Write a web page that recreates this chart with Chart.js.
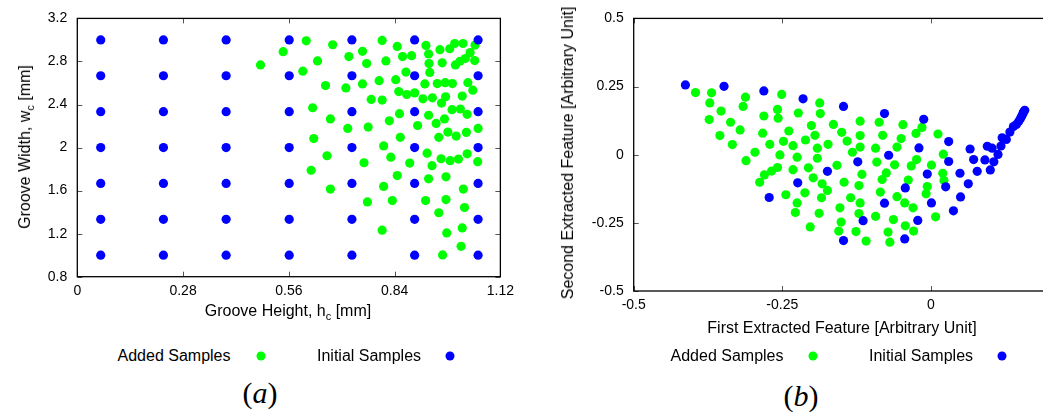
<!DOCTYPE html>
<html lang="en">
  <head>
    <meta charset="UTF-8" />
    <title>Added and Initial Samples</title>
    <script src="https://cdn.jsdelivr.net/npm/chart.js"></script>
    <style>
      body {
        margin: 0;
        width: 1043px;
        height: 414px;
        overflow: hidden;
        position: relative;
        background: #fff;
        font-family: "Liberation Sans", Arial, sans-serif;
        color: #000;
      }
      .abs {
        position: absolute;
        white-space: nowrap;
        line-height: 1;
        transform: translate(-50%, -50%);
      }
      .title {
        font-size: 16px;
      }
      .rot {
        transform: translate(-50%, -50%) rotate(-90deg);
      }
      sub {
        font-size: 11px;
        line-height: 0;
        vertical-align: -4px;
      }
      .dot {
        position: absolute;
        width: 9px;
        height: 9px;
        border-radius: 50%;
        transform: translate(-50%, -50%);
      }
      .panel {
        font-family: "Liberation Serif", "DejaVu Serif", serif;
        font-size: 30px;
      }
    </style>
  </head>
  <body>
    <canvas id="chartA" width="520" height="320" style="position:absolute;left:0;top:0"></canvas>
    <canvas id="chartB" width="730" height="330" style="position:absolute;left:520px;top:0"></canvas>

    <!-- axis titles -->
    <div class="abs title" style="left:288px;top:311px">Groove Height, h<sub>c</sub> [mm]</div>
    <div class="abs title rot" style="left:25px;top:147px">Groove Width, w<sub>c</sub> [mm]</div>
    <div class="abs title" style="left:842px;top:328px">First Extracted Feature [Arbitrary Unit]</div>
    <div class="abs title rot" style="left:568px;top:153px">Second Extracted Feature [Arbitrary Unit]</div>

    <!-- legends -->
    <div class="abs title" style="left:174px;top:356px">Added Samples</div>
    <div class="dot" style="left:261px;top:356px;background:#00ff00"></div>
    <div class="abs title" style="left:369px;top:356px">Initial Samples</div>
    <div class="dot" style="left:450px;top:356px;background:#0000ff"></div>

    <div class="abs title" style="left:727px;top:356px">Added Samples</div>
    <div class="dot" style="left:813px;top:356px;background:#00ff00"></div>
    <div class="abs title" style="left:921px;top:356px">Initial Samples</div>
    <div class="dot" style="left:1002px;top:356px;background:#0000ff"></div>

    <div class="abs panel" style="left:260px;top:393px">(<i>a</i>)</div>
    <div class="abs panel" style="left:801px;top:396px">(<i>b</i>)</div>

    <script>
      // ---- panel (a): design space ----
      const hcLevels = [0.062, 0.228, 0.394, 0.561, 0.727, 0.893, 1.061];
      const wcLevels = [1.0, 1.333, 1.667, 2.0, 2.333, 2.667, 3.0];

      const addedHc = [0.485,0.545,0.606,0.597,0.636,0.676,0.657,0.623,0.670,0.626,0.661,0.619,0.670,
        0.719,0.755,0.766,0.711,0.755,0.716,0.770,0.759,0.768,0.778,0.807,0.817,0.799,0.807,0.826,
        0.811,0.830,0.811,0.834,0.807,0.847,0.861,0.885,0.870,0.843,0.851,0.872,0.893,0.853,0.855,
        0.847,0.880,0.901,0.915,0.920,0.923,0.930,0.931,0.933,0.940,0.930,0.926,0.939,0.930,0.922,
        0.957,0.967,0.960,0.966,0.953,0.974,0.993,0.975,0.964,0.950,0.972,0.957,0.981,0.963,0.987,
        0.976,0.976,0.978,0.986,0.999,1.021,1.001,1.013,1.027,1.040,1.052,1.053,1.034,1.047,1.019,
        1.014,0.992,1.032,1.003,1.030,1.009,1.032,1.022,1.025,1.019,1.016,1.061,1.060];
      const addedWc = [2.768,2.891,2.992,2.710,2.805,2.955,2.576,2.370,2.266,2.083,1.924,1.789,1.614,
        2.845,2.894,2.781,2.554,2.591,2.178,2.190,1.859,1.495,2.447,2.995,2.805,2.621,2.441,2.248,
        2.015,1.911,1.639,1.507,1.232,2.940,2.845,2.854,2.701,2.631,2.520,2.493,2.508,2.315,2.095,
        1.740,1.856,2.205,2.453,2.591,2.949,2.869,2.781,2.698,2.462,2.300,1.948,1.832,1.709,1.507,
        1.394,1.002,2.909,2.787,2.594,2.603,2.594,2.472,2.413,2.224,2.266,2.095,2.144,1.896,1.878,
        1.728,1.517,1.207,2.918,2.967,2.967,2.768,2.802,2.827,2.882,2.808,2.952,2.603,2.533,2.478,
        2.358,2.352,2.309,2.107,2.141,1.893,1.942,1.614,1.443,1.253,1.082,2.178,1.869];

      const aXTicks = [0, 0.28, 0.56, 0.84, 1.12];
      const aYTicks = [0.8, 1.2, 1.6, 2, 2.4, 2.8, 3.2];

      // ---- panel (b): extracted features ----
      const initF1 = [-0.413,-0.348,-0.281,-0.215,-0.147,-0.078,-0.012,0.030,-0.020,-0.071,-0.123,
        -0.174,-0.224,-0.272,0.030,-0.006,-0.043,-0.078,-0.114,-0.147,-0.044,-0.022,0.001,0.025,
        0.038,0.050,0.063,0.049,0.066,0.072,0.078,0.091,0.100,0.106,0.095,0.103,0.113,0.118,0.120,
        0.127,0.133,0.139,0.144,0.148,0.151,0.153,0.155,0.156,0.158];
      const initF2 = [0.256,0.251,0.234,0.205,0.177,0.151,0.130,0.048,0.025,-0.002,-0.026,-0.061,
        -0.103,-0.157,-0.025,-0.071,-0.122,-0.178,-0.242,-0.315,-0.309,-0.241,-0.177,-0.118,-0.206,
        -0.155,-0.107,-0.068,0.021,-0.018,-0.061,-0.019,-0.056,-0.026,0.031,0.024,0.001,0.032,0.062,
        0.056,0.083,0.103,0.111,0.123,0.134,0.142,0.151,0.157,0.163];

      const addF1 = [-0.396,-0.369,-0.372,-0.373,-0.353,-0.337,-0.355,-0.334,-0.321,-0.312,
        -0.316,-0.311,-0.296,-0.281,-0.283,-0.271,-0.280,-0.288,-0.268,-0.258,
        -0.251,-0.258,-0.257,-0.239,-0.248,-0.254,-0.232,-0.225,-0.232,-0.244,
        -0.225,-0.228,-0.212,-0.211,-0.223,-0.201,-0.195,-0.191,-0.191,-0.206,
        -0.198,-0.187,-0.186,-0.173,-0.183,-0.174,-0.184,-0.188,-0.203,-0.164,
        -0.150,-0.141,-0.158,-0.146,-0.153,-0.135,-0.151,-0.155,-0.132,-0.119,
        -0.119,-0.119,-0.116,-0.121,-0.119,-0.121,-0.126,-0.109,-0.093,-0.085,
        -0.082,-0.075,-0.091,-0.093,-0.081,-0.087,-0.063,-0.072,-0.069,-0.061,
        -0.057,-0.050,-0.047,-0.057,-0.044,-0.043,-0.038,-0.033,-0.024,-0.025,
        -0.015,-0.030,-0.029,-0.006,-0.008,0.001,0.008,0.012,0.021,0.020,0.022];
      const addF2 = [0.228,0.227,0.190,0.129,0.160,0.119,0.070,0.037,0.091,0.211,
        0.177,-0.022,0.009,0.142,0.079,0.038,-0.074,-0.101,-0.060,-0.047,
        0.221,0.166,0.134,0.087,0.049,-0.001,0.033,-0.009,-0.055,-0.147,
        -0.177,-0.212,-0.140,0.054,0.153,0.107,0.071,0.024,-0.013,-0.048,
        -0.085,0.190,0.151,0.038,-0.107,-0.131,-0.158,-0.215,-0.265,0.111,
        0.082,0.050,-0.039,-0.101,-0.195,-0.158,-0.247,-0.280,0.009,0.123,
        0.070,0.028,-0.072,-0.113,-0.177,-0.216,-0.282,-0.317,-0.226,-0.137,
        -0.091,-0.067,-0.027,0.024,0.071,0.119,-0.238,-0.284,-0.321,-0.037,
        0.028,0.059,0.110,-0.154,-0.177,-0.261,-0.093,-0.041,-0.018,0.078,
        0.100,-0.195,-0.280,-0.117,-0.143,-0.038,-0.228,0.076,0.002,-0.068,-0.095];

      const bTicks = [-0.5, -0.25, 0, 0.25, 0.5];

      const GREEN = "#00ff00";
      const BLUE = "#0000ff";

      function zipPoints(xs, ys) {
        return xs.map((x, i) => ({ x: x, y: ys[i] }));
      }

      // 7x7 grid of initial samples
      const initialA = [];
      hcLevels.forEach((h) => wcLevels.forEach((w) => initialA.push({ x: h, y: w })));

      // box frame with inward tick marks on all four sides
      const framePlugin = {
        id: "frame",
        afterDraw(chart) {
          const { ctx, chartArea: a } = chart;
          const x = chart.scales.x;
          const y = chart.scales.y;
          ctx.save();
          ctx.strokeStyle = "#555";
          ctx.lineWidth = 1;
          ctx.beginPath();
          x.ticks.forEach((t) => {
            const px = Math.round(x.getPixelForValue(t.value)) + 0.5;
            ctx.moveTo(px, a.bottom);
            ctx.lineTo(px, a.bottom - 5);
            ctx.moveTo(px, a.top);
            ctx.lineTo(px, a.top + 5);
          });
          y.ticks.forEach((t) => {
            const py = Math.round(y.getPixelForValue(t.value)) + 0.5;
            ctx.moveTo(a.left, py);
            ctx.lineTo(a.left + 5, py);
            ctx.moveTo(a.right, py);
            ctx.lineTo(a.right - 5, py);
          });
          ctx.stroke();
          ctx.strokeStyle = "#000";
          ctx.lineWidth = 1.3;
          ctx.strokeRect(a.left, a.top, a.right - a.left, a.bottom - a.top);
          ctx.restore();
        },
      };

      function makeChart(id, added, initial, xr, yr, xTicks, yTicks, box) {
        const tickFont = { family: "'Liberation Sans', Arial, sans-serif", size: 14 };
        return new Chart(document.getElementById(id), {
          type: "scatter",
          data: {
            datasets: [
              {
                label: "Added Samples",
                data: added,
                backgroundColor: GREEN,
                pointRadius: 4.6,
                borderWidth: 0,
                order: 1,
              },
              {
                label: "Initial Samples",
                data: initial,
                backgroundColor: BLUE,
                pointRadius: 4.6,
                borderWidth: 0,
                order: 0,
              },
            ],
          },
          options: {
            responsive: false,
            animation: false,
            events: [],
            layout: { padding: box.padding },
            plugins: { legend: { display: false }, tooltip: { enabled: false } },
            scales: {
              x: {
                type: "linear",
                min: xr[0],
                max: xr[1],
                grid: { display: false, drawTicks: false },
                border: { display: false },
                afterBuildTicks: (s) => { s.ticks = xTicks.map((v) => ({ value: v })); },
                afterFit: (s) => { s.height = box.xHeight; },
                ticks: { color: "#000", font: tickFont, padding: 6, maxRotation: 0, autoSkip: false,
                  callback: (v) => String(v) },
              },
              y: {
                type: "linear",
                min: yr[0],
                max: yr[1],
                grid: { display: false, drawTicks: false },
                border: { display: false },
                afterBuildTicks: (s) => { s.ticks = yTicks.map((v) => ({ value: v })); },
                afterFit: (s) => { s.width = box.yWidth; },
                ticks: { color: "#000", font: tickFont, padding: 10, autoSkip: false,
                  callback: (v) => String(v) },
              },
            },
          },
          plugins: [framePlugin],
        });
      }

      makeChart("chartA", zipPoints(addedHc, addedWc), initialA, [0, 1.12], [0.8, 3.2],
        aXTicks, aYTicks,
        { padding: { left: 0, right: 18.3, top: 15.3, bottom: 20 }, xHeight: 23.3, yWidth: 77.3 });

      makeChart("chartB", zipPoints(addF1, addF2), zipPoints(initF1, initF2), [-0.5, 0.5], [-0.5, 0.5],
        bTicks, bTicks,
        { padding: { left: 0, right: 22, top: 15.3, bottom: 20 }, xHeight: 19, yWidth: 113.7 });
    </script>
  </body>
</html>
